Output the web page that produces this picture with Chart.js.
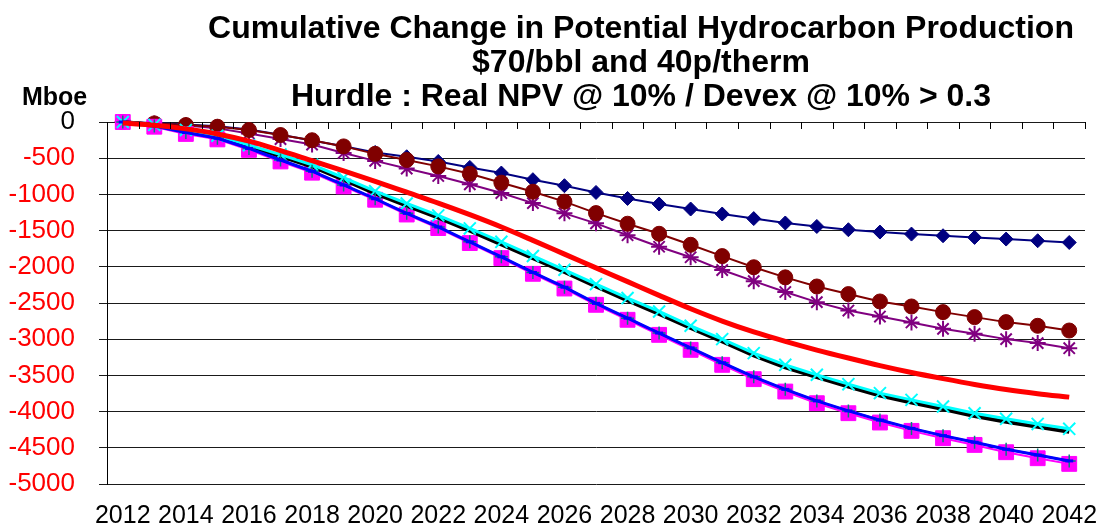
<!DOCTYPE html>
<html>
<head>
<meta charset="utf-8">
<script src="https://cdn.jsdelivr.net/npm/chart.js@4/dist/chart.umd.min.js"></script>
<style>
html,body{margin:0;padding:0;background:#ffffff;overflow:hidden}
#wrap{width:1105px;height:530px;position:relative}
</style>
</head>
<body>
<div id="wrap"><canvas id="c" width="1105" height="530"></canvas></div>
<script>
// ---- data ----
const years = ['2012','2013','2014','2015','2016','2017','2018','2019','2020','2021','2022','2023','2024','2025','2026','2027','2028','2029','2030','2031','2032','2033','2034','2035','2036','2037','2038','2039','2040','2041','2042'];
const tickYears = ['2012','2014','2016','2018','2020','2022','2024','2026','2028','2030','2032','2034','2036','2038','2040','2042'];
const yTicks = [0,-500,-1000,-1500,-2000,-2500,-3000,-3500,-4000,-4500,-5000];

const navyDiamonds = [0,-15,-35,-60,-105,-175,-255,-335,-420,-480,-545,-627,-705,-797,-880,-973,-1056,-1133,-1202,-1271,-1334,-1395,-1443,-1488,-1520,-1548,-1571,-1594,-1617,-1640,-1664];
const redCircles   = [0,-19,-42,-65,-111,-180,-252,-337,-440,-525,-613,-714,-838,-963,-1100,-1258,-1405,-1544,-1696,-1852,-2006,-2146,-2272,-2377,-2479,-2548,-2626,-2695,-2764,-2815,-2880];
const purpleStars  = [0,-20,-50,-88,-158,-235,-312,-428,-537,-643,-746,-860,-981,-1120,-1262,-1400,-1564,-1723,-1868,-2045,-2198,-2348,-2488,-2604,-2687,-2769,-2857,-2926,-2999,-3054,-3124];
const redLine      = [-15,-45,-95,-165,-265,-395,-535,-675,-820,-970,-1120,-1280,-1450,-1635,-1825,-2015,-2205,-2395,-2580,-2750,-2900,-3030,-3150,-3260,-3365,-3460,-3545,-3625,-3695,-3752,-3800];
const cyanX        = [0,-40,-110,-190,-320,-450,-590,-770,-955,-1125,-1290,-1470,-1655,-1850,-2041,-2239,-2432,-2617,-2815,-2999,-3192,-3354,-3492,-3621,-3745,-3838,-3930,-4022,-4100,-4170,-4238];
const blackLine    = [0,-40,-115,-200,-335,-470,-615,-795,-985,-1155,-1320,-1500,-1690,-1880,-2070,-2270,-2465,-2650,-2845,-3030,-3225,-3390,-3525,-3655,-3780,-3875,-3965,-4060,-4140,-4210,-4280];
const magentaSquares = [0,-65,-165,-240,-385,-545,-700,-890,-1074,-1278,-1465,-1672,-1880,-2097,-2300,-2525,-2732,-2940,-3147,-3354,-3552,-3723,-3884,-4022,-4151,-4266,-4367,-4460,-4561,-4644,-4722];
const tealPlus     = [0,-55,-145,-225,-365,-525,-680,-870,-1060,-1262,-1450,-1655,-1862,-2078,-2282,-2505,-2710,-2915,-3120,-3325,-3520,-3693,-3852,-3990,-4117,-4232,-4332,-4423,-4520,-4600,-4681];
const blueLine     = [0,-55,-145,-225,-365,-525,-680,-870,-1060,-1262,-1450,-1655,-1862,-2078,-2282,-2505,-2710,-2915,-3120,-3325,-3520,-3693,-3852,-3990,-4117,-4232,-4332,-4423,-4520,-4600,-4681];

const titleLines = ['Cumulative Change in Potential Hydrocarbon Production','$70/bbl and 40p/therm','Hurdle : Real NPV @ 10% / Devex @ 10% > 0.3'];
const yUnit = 'Mboe';

const FONT = "'Liberation Sans', Arial, sans-serif";

// custom title + unit label + inward category tick marks on top axis
const decorPlugin = {
  id: 'decor',
  afterDraw(chart) {
    const ctx = chart.ctx;
    const area = chart.chartArea;
    const xs = chart.scales.x;
    ctx.save();
    ctx.strokeStyle = '#000';
    ctx.lineWidth = 1;
    ctx.beginPath();
    for (let i = 0; i <= years.length; i++) {
      const px = Math.round(xs.getPixelForValue(i - 0.5)) + 0.5;
      ctx.moveTo(px, area.top);
      ctx.lineTo(px, area.top + 7);
    }
    ctx.stroke();
    ctx.fillStyle = '#000';
    ctx.font = 'bold 32px ' + FONT;
    ctx.textAlign = 'center';
    ctx.textBaseline = 'alphabetic';
    const cx = 641;
    const base = [38, 72, 106];
    titleLines.forEach((t, i) => ctx.fillText(t, cx, base[i]));
    ctx.font = 'bold 25px ' + FONT;
    ctx.textAlign = 'left';
    ctx.fillText(yUnit, 22, 105);
    ctx.restore();
  }
};

const ds = (label, data, o) => Object.assign({label, data, fill:false, clip:false, tension:0, pointHoverRadius:0}, o);

new Chart(document.getElementById('c'), {
  type: 'line',
  data: {
    labels: years,
    datasets: [
      ds('Red', redLine, {borderColor:'#FF0000', borderWidth:5, pointRadius:0, cubicInterpolationMode:'monotone', order:0}),
      ds('Blue', blueLine, {borderColor:'#0000FF', borderWidth:3, pointStyle:'line', pointRadius:4, pointBorderColor:'#0000FF', pointBorderWidth:3, order:1}),
      ds('Teal', tealPlus, {borderColor:'#008080', borderWidth:2, pointStyle:'cross', pointRadius:6.5, pointBorderColor:'#008080', pointBorderWidth:1.5, order:2}),
      ds('Cyan', cyanX, {borderColor:'#00FFFF', borderWidth:3, pointStyle:'crossRot', pointRadius:8.5, pointBorderColor:'#00FFFF', pointBorderWidth:2, order:3}),
      ds('Black', blackLine, {borderColor:'#000000', borderWidth:4, pointRadius:0, order:4}),
      ds('Magenta', magentaSquares, {borderColor:'#FF00FF', borderWidth:2, pointStyle:'rect', pointRadius:10.5, pointBackgroundColor:'#FF00FF', pointBorderColor:'#FF00FF', pointBorderWidth:1, order:5}),
      ds('Circles', redCircles, {borderColor:'#800000', borderWidth:2, pointStyle:'circle', pointRadius:7.5, pointBackgroundColor:'#800000', pointBorderColor:'#800000', pointBorderWidth:1, order:6}),
      ds('Stars', purpleStars, {borderColor:'#800080', borderWidth:2, pointStyle:'star', pointRadius:8, pointBorderColor:'#800080', pointBorderWidth:2, order:7}),
      ds('Diamonds', navyDiamonds, {borderColor:'#000080', borderWidth:2, pointStyle:'rectRot', pointRadius:7, pointBackgroundColor:'#000080', pointBorderColor:'#000080', pointBorderWidth:1, order:8})
    ]
  },
  options: {
    responsive: false,
    animation: false,
    events: [],
    devicePixelRatio: 1,
    layout: { padding: { left: 0, right: 20, top: 122, bottom: 0 } },
    plugins: { legend: { display: false }, title: { display: false }, tooltip: { enabled: false } },
    scales: {
      x: {
        type: 'category',
        position: 'bottom',
        offset: true,
        grid: { display: false, drawTicks: false },
        border: { display: false },
        ticks: {
          autoSkip: false, maxRotation: 0, minRotation: 0,
          color: '#000', padding: 0,
          font: { family: FONT, size: 25, lineHeight: 2.56 },
          callback: function(v) { const l = this.getLabelForValue(v); return tickYears.includes(l) ? l : ''; }
        },
        afterFit: s => { s.height = 46; }
      },
      y: {
        min: -5000, max: 0,
        afterBuildTicks: s => { s.ticks = yTicks.map(v => ({value: v})); },
        grid: { color: '#1a1a1a', lineWidth: 1, tickLength: 8, drawTicks: true },
        border: { display: true, color: '#000', width: 1 },
        ticks: {
          padding: 24,
          font: { family: FONT, size: 26 },
          color: c => (c.tick && c.tick.value === 0) ? '#000000' : '#FF0000',
          callback: v => String(v)
        },
        afterFit: s => { s.width = 107; }
      }
    }
  },
  plugins: [decorPlugin]
});
</script>
</body>
</html>
